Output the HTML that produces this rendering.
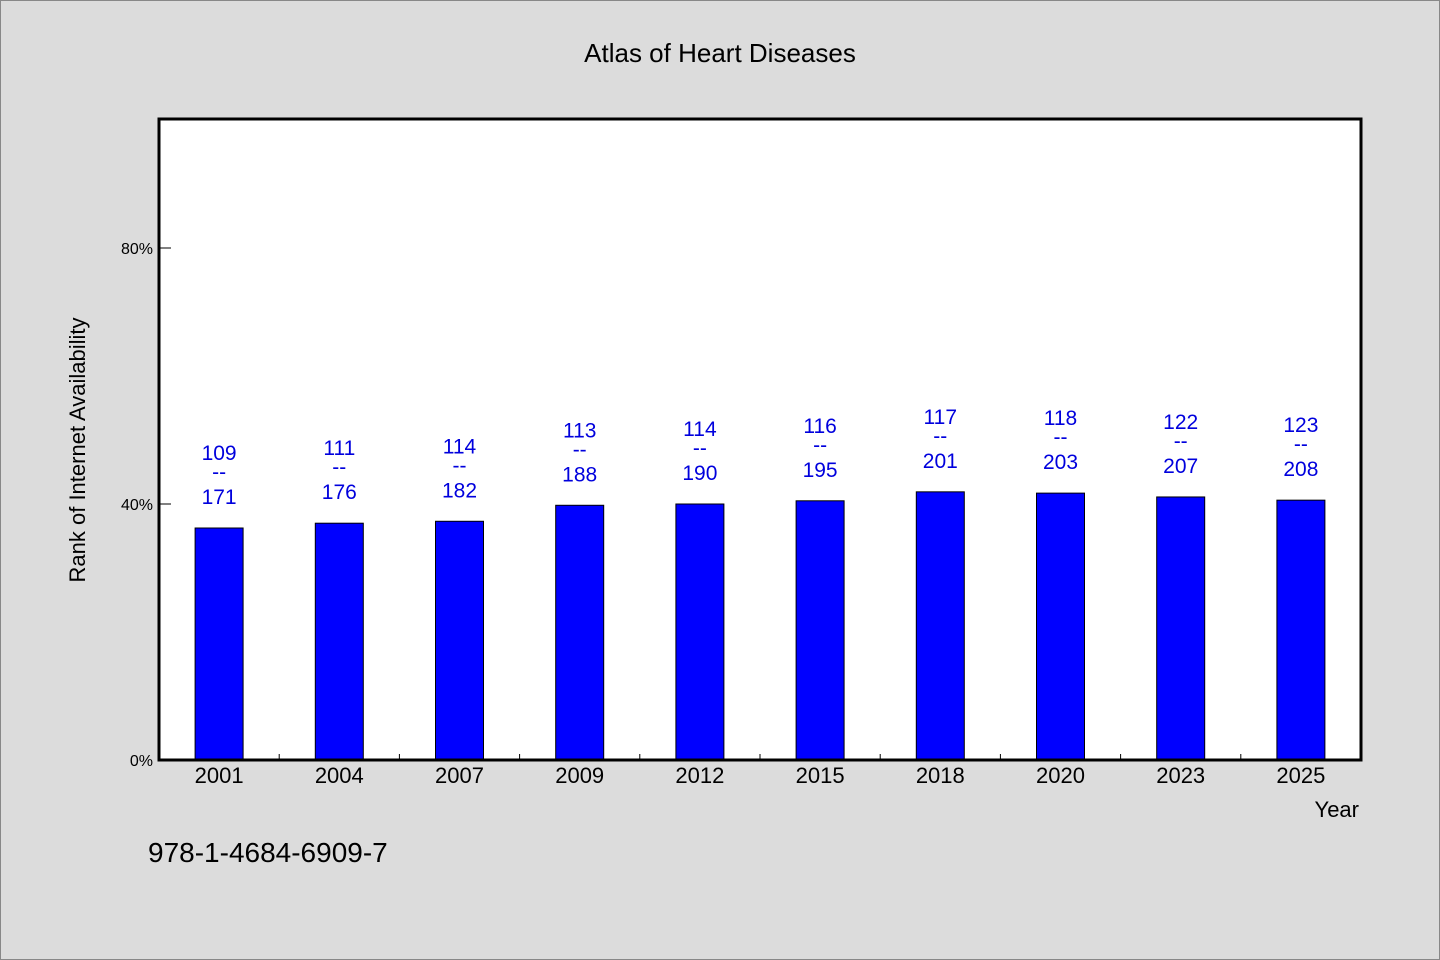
<!DOCTYPE html>
<html><head><meta charset="utf-8"><style>
body{margin:0;background:#dcdcdc;}
svg{display:block;font-family:"WenQuanYi Zen Hei","Liberation Sans",sans-serif;}
</style></head><body>
<svg id="chart" width="1440" height="960">
<rect x="0.5" y="0.5" width="1439" height="959" fill="#dcdcdc" stroke="#888"/>
<text x="720" y="62" text-anchor="middle" font-size="26">Atlas of Heart Diseases</text>
<rect x="159" y="119" width="1202" height="641" fill="#fff"/>
<g id="marks"></g>
<rect x="159" y="119" width="1202" height="641" fill="none" stroke="#000" stroke-width="3"/>
<text transform="translate(85,450) rotate(-90)" text-anchor="middle" font-size="22">Rank of Internet Availability</text>
<text x="1359" y="817" text-anchor="end" font-size="22">Year</text>
<text x="148" y="862" font-size="28">978-1-4684-6909-7</text>
</svg>
<script>
const categories=["2001","2004","2007","2009","2012","2015","2018","2020","2023","2025"];
const values=[36.25,37.0,37.3,39.8,40.0,40.5,41.9,41.7,41.1,40.6];
const topLabels=["109","111","114","113","114","116","117","118","122","123"];
const bottomLabels=["171","176","182","188","190","195","201","203","207","208"];
const yTicks=[0,40,80];
const yTickLabels=["0%","40%","80%"];
const NS="http://www.w3.org/2000/svg";
const x0=159,slot=120.2,y0=760,ppu=6.4;
const xc=i=>x0+slot*(i+0.5);
const ys=v=>y0-v*ppu;
const g=document.getElementById('marks');
function mk(t,a,txt){const e=document.createElementNS(NS,t);for(const k in a)e.setAttribute(k,a[k]);if(txt!==undefined)e.textContent=txt;g.appendChild(e);return e;}
yTicks.forEach((v,i)=>{
 const l=mk('line',{x1:159,x2:171,y1:ys(v),y2:ys(v),stroke:'#000'});
 
 
 const t=mk('text',{x:153,y:ys(v)+6,'text-anchor':'end','font-size':16},yTickLabels[i]);
 
 
});
categories.forEach((c,i)=>{
 if(i>0){const tk=mk('line',{x1:x0+slot*i,x2:x0+slot*i,y1:760,y2:754,stroke:'#000'});
 
 }
 const top=ys(values[i]);
 const b=mk('rect',{x:xc(i)-24,y:top,width:48,height:y0-top,fill:'#0000ff',stroke:'#000','stroke-width':1});
 
 
 const t1=mk('text',{x:xc(i),y:top-68,'text-anchor':'middle','font-size':21,fill:'#0000dd'},topLabels[i]);
 
 
 const t2=mk('text',{x:xc(i),y:top-49,'text-anchor':'middle','font-size':21,fill:'#0000dd'},'--');
 
 
 const t3=mk('text',{x:xc(i),y:top-24,'text-anchor':'middle','font-size':21,fill:'#0000dd'},bottomLabels[i]);
 
 
 const xl=mk('text',{x:xc(i),y:783,'text-anchor':'middle','font-size':22},c);
 
 
});
</script>
</body></html>
